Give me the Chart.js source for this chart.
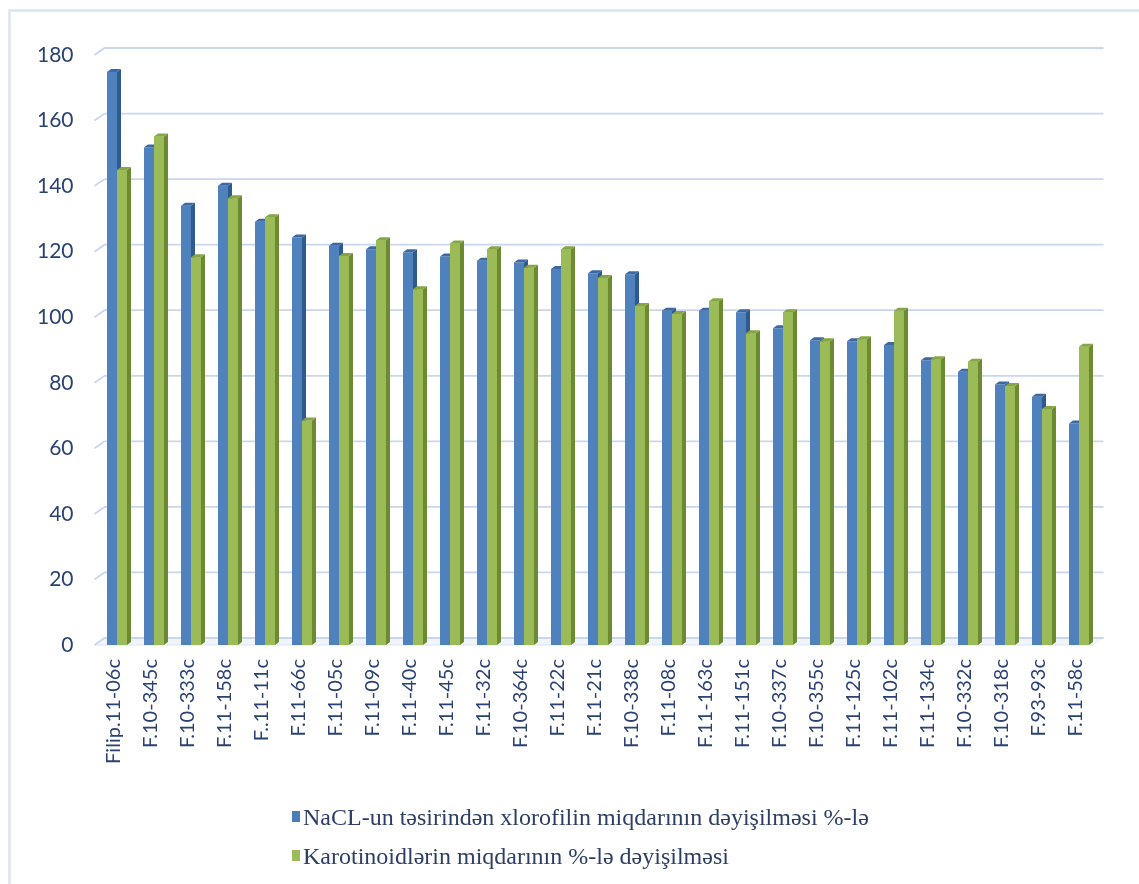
<!DOCTYPE html>
<html>
<head>
<meta charset="utf-8">
<script src="https://cdn.jsdelivr.net/npm/chart.js@4.4.1/dist/chart.umd.min.js"></script>
<style>
  html, body { margin: 0; padding: 0; background: #ffffff; }
  #wrap { position: relative; width: 1139px; height: 884px; overflow: hidden; }
  #legend { position: absolute; left: 292px; top: 803px; font-family: "Liberation Serif", "Times New Roman", serif;
            font-size: 24px; color: #2c3e63; }
  .item { display: flex; align-items: center; height: 28px; margin-bottom: 11px; white-space: pre; }
  .sw { width: 8px; height: 11px; margin-right: 3px; margin-top: -2px; }
</style>
</head>
<body>
<div id="wrap">
  <canvas id="chart" width="1139" height="884"></canvas>
  <div id="legend"></div>
</div>
<script>
// Varieties along the category axis
const categories = [
  'Filip.11-06c', 'F.10-345c', 'F.10-333c', 'F.11-158c', 'F..11-11c', 'F.11-66c', 'F.11-05c',
  'F.11-09c', 'F.11-40c', 'F.11-45c', 'F.11-32c', 'F.10-364c', 'F.11-22c', 'F.11-21c',
  'F.10-338c', 'F.11-08c', 'F.11-163c', 'F.11-151c', 'F.10-337c', 'F.10-355c', 'F.11-125c',
  'F.11-102c', 'F.11-134c', 'F.10-332c', 'F.10-318c', 'F.93-93c', 'F.11-58c'
];

// Change of chlorophyll content under NaCl, %
const chlorophyll = [
  174.8, 151.8, 134.0, 140.1, 129.1, 124.3, 121.8, 120.7, 119.8, 118.5, 117.2, 116.7, 114.7, 113.4,
  113.1, 102.0, 102.0, 101.5, 96.6, 93.0, 92.7, 91.5, 86.9, 83.4, 79.5, 75.7, 67.6
];

// Change of carotenoid content, %
const carotenoids = [
  144.9, 155.1, 118.3, 136.3, 130.5, 68.5, 118.7, 123.5, 108.5, 122.5, 120.7, 115.1, 120.7, 112.0,
  103.4, 101.0, 104.9, 95.1, 101.5, 92.7, 93.3, 102.0, 87.2, 86.4, 79.0, 72.0, 91.0
];

const seriesNames = [
  'NaCL-un təsirindən xlorofilin miqdarının dəyişilməsi %-lə',
  'Karotinoidlərin miqdarının %-lə dəyişilməsi'
];

const yTicks = [0, 20, 40, 60, 80, 100, 120, 140, 160, 180];

const depth = { dx: 4, dy: 3 };      // extrusion of the columns
const wall = { dx: 10, dy: -7 };     // back wall offset for gridlines
const tickColor = '#2a4273';

// Light frame around the whole chart
const framePlugin = {
  id: 'frame',
  beforeDraw(chart) {
    const ctx = chart.ctx;
    ctx.save();
    ctx.strokeStyle = '#dbe4f2';
    ctx.lineWidth = 2.5;
    ctx.strokeRect(9.5, 10.5, 1400, 1200);
    ctx.restore();
  }
};

// Gridlines on the back wall with a short slanted foot, plus the floor
const wallGridPlugin = {
  id: 'wallGrid',
  beforeDatasetsDraw(chart) {
    const { ctx, chartArea } = chart;
    const ys = chart.scales.y;
    const x0 = chartArea.left - 4;
    const x1 = x0 + wall.dx;
    const x2 = chartArea.right + 6;
    ctx.save();
    const yb = ys.getPixelForValue(0);
    ctx.fillStyle = '#f1f4fa';
    ctx.beginPath();
    ctx.moveTo(x0, yb); ctx.lineTo(x1, yb + wall.dy); ctx.lineTo(x2, yb + wall.dy); ctx.lineTo(x2 - wall.dx, yb);
    ctx.closePath(); ctx.fill();
    ctx.strokeStyle = '#dde5f3';
    ctx.lineWidth = 1.2;
    ctx.beginPath(); ctx.moveTo(x0, yb); ctx.lineTo(x2 - wall.dx, yb); ctx.stroke();

    ctx.strokeStyle = '#c9d6ee';
    ctx.lineWidth = 1.8;
    yTicks.forEach(v => {
      const y = ys.getPixelForValue(v);
      ctx.beginPath();
      ctx.moveTo(x0, y);
      ctx.lineTo(x1, y + wall.dy);
      ctx.lineTo(x2, y + wall.dy);
      ctx.stroke();
    });
    ctx.restore();
  }
};

function drawFaces(ctx, bar, ds) {
  const { x, y, base, width } = bar.getProps(['x', 'y', 'base', 'width'], true);
  const l = x - width / 2, r = x + width / 2;
  ctx.fillStyle = ds.sideColor;
  ctx.beginPath();
  ctx.moveTo(r, y); ctx.lineTo(r + depth.dx, y - depth.dy);
  ctx.lineTo(r + depth.dx, base - depth.dy); ctx.lineTo(r, base);
  ctx.closePath(); ctx.fill();
  ctx.fillStyle = ds.topColor;
  ctx.beginPath();
  ctx.moveTo(l, y); ctx.lineTo(l + depth.dx, y - depth.dy);
  ctx.lineTo(r + depth.dx, y - depth.dy); ctx.lineTo(r, y);
  ctx.closePath(); ctx.fill();
}

// Side and top faces; the right-hand column of each pair is redrawn so it sits in front
const columnDepthPlugin = {
  id: 'columnDepth',
  afterDatasetsDraw(chart) {
    const ctx = chart.ctx;
    ctx.save();
    chart.data.datasets.forEach((ds, i) => {
      const meta = chart.getDatasetMeta(i);
      meta.data.forEach(bar => {
        if (i > 0) bar.draw(ctx, chart.chartArea);
        drawFaces(ctx, bar, ds);
      });
    });
    ctx.restore();
  }
};

const datasets = [
  { label: seriesNames[0], data: chlorophyll, backgroundColor: '#4f81bd',
    sideColor: '#2e5a8f', topColor: '#3b69a3' },
  { label: seriesNames[1], data: carotenoids, backgroundColor: '#9bbb59',
    sideColor: '#6c8a2f', topColor: '#86a646' }
];

new Chart(document.getElementById('chart'), {
  type: 'bar',
  data: { labels: categories, datasets: datasets },
  options: {
    responsive: false,
    animation: false,
    events: [],
    layout: { padding: { left: 0, top: 55, right: 41.5, bottom: 0 } },
    datasets: { bar: { categoryPercentage: 0.54, barPercentage: 1.0, borderWidth: 0 } },
    plugins: { legend: { display: false }, tooltip: { enabled: false } },
    scales: {
      x: {
        grid: { display: false, drawTicks: false },
        border: { display: false },
        ticks: { color: tickColor, font: { family: 'Lato', size: 20 }, minRotation: 90, maxRotation: 90,
                 autoSkip: false, padding: 14, labelOffset: -3 },
        afterFit(s) { s.height = 884 - 645; }
      },
      y: {
        min: 0, max: 180,
        grid: { display: false, drawTicks: false },
        border: { display: false },
        afterBuildTicks(s) { s.ticks = yTicks.map(v => ({ value: v })); },
        ticks: { color: tickColor, font: { family: 'Lato', size: 21 }, padding: 25 },
        afterFit(s) { s.width = 98.5; }
      }
    }
  },
  plugins: [framePlugin, wallGridPlugin, columnDepthPlugin]
});

// Legend stacked in two rows below the axis
const legendColors = ['#4a7ebb', '#9bbb59'];
const legend = document.getElementById('legend');
seriesNames.forEach((name, i) => {
  const row = document.createElement('div');
  row.className = 'item';
  const sw = document.createElement('span');
  sw.className = 'sw';
  sw.style.background = legendColors[i];
  const tx = document.createElement('span');
  tx.textContent = name;
  row.appendChild(sw); row.appendChild(tx);
  legend.appendChild(row);
});
</script>
</body>
</html>
